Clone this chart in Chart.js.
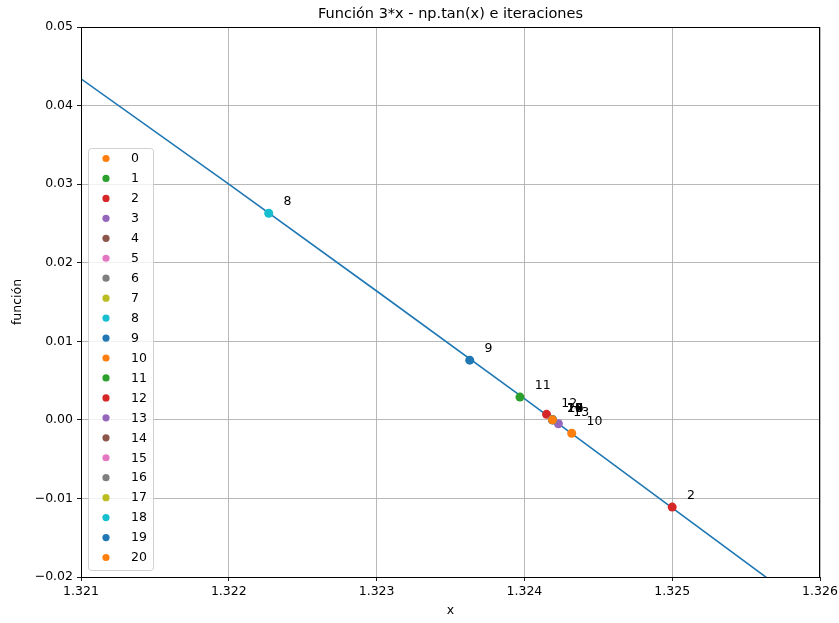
<!DOCTYPE html>
<html>
<head>
<meta charset="utf-8">
<script src="https://cdn.jsdelivr.net/npm/chart.js@4/dist/chart.umd.min.js"></script>
<style>
  body { margin: 0; background: #fff; }
  #plot { display: block; }
</style>
</head>
<body>
<canvas id="plot" width="839" height="623"></canvas>
<script>
// curve 3*x - tan(x)
const lineX = [1.321, 1.322, 1.323, 1.324, 1.325, 1.326];
const lineY = [0.0434, 0.0300, 0.0164, 0.0027, -0.0112, -0.0251];

// iterations 0..20 (null = outside the visible window)
const iterLabels = ['0', '1', '2', '3', '4', '5', '6', '7', '8', '9', '10',
  '11', '12', '13', '14', '15', '16', '17', '18', '19', '20'];
const iterX = [null, null, 1.3250, null, null, null, null, null, 1.32227, 1.32363, 1.32432,
  1.32397, 1.32415, 1.32423, 1.32419, 1.32419, 1.32419, 1.32419, 1.32419, 1.32419, 1.32419];
const iterY = [null, null, -0.0111, null, null, null, null, null, 0.0263, 0.0076, -0.0017,
  0.0029, 0.0007, -0.0005, 0.0000, 0.0000, 0.0000, 0.0000, 0.0000, 0.0000, 0.0000];

const xTicks = [1.321, 1.322, 1.323, 1.324, 1.325, 1.326];
const yTicks = [-0.02, -0.01, 0.00, 0.01, 0.02, 0.03, 0.04, 0.05];

const tab10 = ['#1f77b4', '#ff7f0e', '#2ca02c', '#d62728', '#9467bd',
  '#8c564b', '#e377c2', '#7f7f7f', '#bcbd22', '#17becf'];
const FONT = '"DejaVu Sans", sans-serif';

const datasets = [{
  label: 'f',
  data: lineX.map((x, i) => ({ x: x, y: lineY[i] })),
  showLine: true,
  borderColor: tab10[0],
  borderWidth: 1.6,
  pointRadius: 0,
  order: 1000
}];

iterLabels.forEach((lab, i) => {
  const pts = iterX[i] === null ? [] : [{ x: iterX[i], y: iterY[i] }];
  const c = tab10[(i + 1) % 10];
  datasets.push({
    label: lab,
    data: pts,
    backgroundColor: c,
    borderColor: c,
    pointRadius: 4.5,
    pointBorderWidth: 0,
    order: 100 - i
  });
});

const fmtMinus = s => s.replace('-', '\u2212');

const extras = {
  id: 'extras',
  afterDatasetsDraw(chart) {
    const ctx = chart.ctx;
    const a = chart.chartArea;
    const xs = chart.scales.x, ys = chart.scales.y;

    // point annotations
    ctx.save();
    ctx.beginPath();
    ctx.rect(a.left, a.top, a.right - a.left, a.bottom - a.top);
    ctx.clip();
    ctx.fillStyle = '#000';
    ctx.font = '12.5px ' + FONT;
    ctx.textAlign = 'left';
    ctx.textBaseline = 'alphabetic';
    iterLabels.forEach((lab, i) => {
      if (iterX[i] === null) return;
      ctx.fillText(lab, xs.getPixelForValue(iterX[i] + 0.0001), ys.getPixelForValue(iterY[i] + 0.001));
    });
    ctx.restore();

    // frame
    ctx.save();
    ctx.strokeStyle = '#000';
    ctx.lineWidth = 1;
    ctx.strokeRect(a.left + 0.5, a.top + 0.5, a.right - a.left - 1, a.bottom - a.top);
    ctx.restore();

    // legend
    const lx = 88, ly = 148, lw = 65, lh = 422, rowH = 19.95;
    ctx.save();
    ctx.fillStyle = 'rgba(255,255,255,0.8)';
    ctx.strokeStyle = 'rgba(204,204,204,0.9)';
    ctx.lineWidth = 1;
    ctx.beginPath();
    ctx.roundRect(lx + 0.5, ly + 0.5, lw, lh, 3);
    ctx.fill();
    ctx.stroke();
    ctx.font = '12.5px ' + FONT;
    ctx.textAlign = 'left';
    ctx.textBaseline = 'middle';
    iterLabels.forEach((lab, i) => {
      const cy = ly + 10.5 + i * rowH;
      ctx.fillStyle = tab10[(i + 1) % 10];
      ctx.beginPath();
      ctx.arc(106, cy, 3.6, 0, Math.PI * 2);
      ctx.fill();
      ctx.fillStyle = '#000';
      ctx.fillText(lab, 131, cy + 0.5);
    });
    ctx.restore();

    // title and axis titles
    ctx.save();
    ctx.fillStyle = '#000';
    ctx.textAlign = 'center';
    ctx.textBaseline = 'middle';
    ctx.font = '14.5px ' + FONT;
    ctx.fillText('Función 3*x - np.tan(x) e iteraciones', (a.left + a.right) / 2, 14);
    ctx.font = '12.5px ' + FONT;
    ctx.fillText('x', (a.left + a.right) / 2, 611);
    ctx.translate(18, (a.top + a.bottom) / 2);
    ctx.rotate(-Math.PI / 2);
    ctx.fillText('función', 0, 0);
    ctx.restore();
  }
};

new Chart(document.getElementById('plot'), {
  type: 'scatter',
  data: { datasets: datasets },
  options: {
    responsive: false,
    animation: false,
    layout: { padding: { top: 27, right: 19, left: 0, bottom: 0 } },
    plugins: { legend: { display: false }, tooltip: { enabled: false }, title: { display: false } },
    scales: {
      x: {
        type: 'linear',
        min: xTicks[0],
        max: xTicks[xTicks.length - 1],
        afterFit: s => { s.height = 46; s.paddingLeft = 0; s.paddingRight = 0; },
        afterBuildTicks: s => { s.ticks = xTicks.map(v => ({ value: v })); },
        grid: { color: '#b0b0b0', lineWidth: 0.9, tickColor: '#000', tickLength: 4 },
        border: { display: true, color: '#000', width: 1 },
        ticks: {
          color: '#000',
          padding: 3,
          maxRotation: 0,
          font: { family: FONT, size: 12.5 },
          callback: v => fmtMinus(v.toFixed(3))
        }
      },
      y: {
        type: 'linear',
        min: yTicks[0],
        max: yTicks[yTicks.length - 1],
        afterFit: s => { s.width = 81; s.paddingTop = 0; s.paddingBottom = 0; },
        afterBuildTicks: s => { s.ticks = yTicks.map(v => ({ value: v })); },
        grid: { color: '#b0b0b0', lineWidth: 0.9, tickColor: '#000', tickLength: 4 },
        border: { display: true, color: '#000', width: 1 },
        ticks: {
          color: '#000',
          padding: 4,
          font: { family: FONT, size: 12.5 },
          callback: v => fmtMinus(v.toFixed(2))
        }
      }
    }
  },
  plugins: [extras]
});
</script>
</body>
</html>
